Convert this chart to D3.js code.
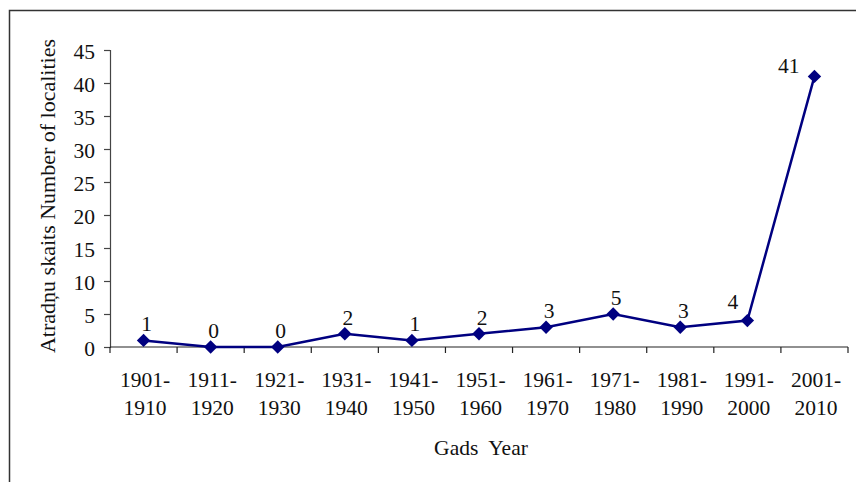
<!DOCTYPE html>
<html lang="en">
<head>
  <meta charset="UTF-8">
  <title>Atradņu skaits</title>
  <script src="https://d3js.org/d3.v7.min.js"></script>
  <style>
    body { margin: 0; background: #fff; }
    svg text { font-family: "Liberation Serif", "Times New Roman", serif; fill: #111; }
  </style>
</head>
<body>
  <svg id="chart" width="856" height="482"></svg>

  <script>
    // decades (two-line tick labels) and the number of localities in each
    const decadeStart = ['1901-', '1911-', '1921-', '1931-', '1941-', '1951-', '1961-', '1971-', '1981-', '1991-', '2001-'];
    const decadeEnd = ['1910', '1920', '1930', '1940', '1950', '1960', '1970', '1980', '1990', '2000', '2010'];
    const localities = [1, 0, 0, 2, 1, 2, 3, 5, 3, 4, 41];
    const yTicks = [0, 5, 10, 15, 20, 25, 30, 35, 40, 45];

    const svg = d3.select('#chart');
    const plotLeft = 110, plotRight = 848, plotTop = 50, plotBottom = 347;
    const navy = '#000080';
    const fs = 21.5;

    // outer frame
    svg.append('rect')
      .attr('x', 9.5).attr('y', 10.5)
      .attr('width', 900).attr('height', 600)
      .attr('fill', 'none')
      .attr('stroke', '#333')
      .attr('stroke-width', 1.5);

    const x = d3.scaleBand()
      .domain(d3.range(localities.length))
      .range([plotLeft, plotRight]);

    const y = d3.scaleLinear()
      .domain([0, 45])
      .range([plotBottom, plotTop]);

    // y axis
    const yAxis = svg.append('g')
      .attr('transform', `translate(${plotLeft},0)`)
      .call(d3.axisLeft(y).tickValues(yTicks).tickSize(6).tickPadding(9));
    yAxis.select('.domain').attr('stroke', '#444').attr('stroke-width', 1.2);
    yAxis.selectAll('.tick line').attr('stroke', '#444').attr('stroke-width', 1.2);
    yAxis.selectAll('.tick text')
      .attr('font-size', fs)
      .attr('fill', '#111')
      .attr('dy', '0.38em');

    // x axis: ticks on category boundaries
    const xAxis = svg.append('g').attr('class', 'x-axis');
    xAxis.append('line')
      .attr('x1', plotLeft).attr('x2', plotRight)
      .attr('y1', plotBottom).attr('y2', plotBottom)
      .attr('stroke', '#222').attr('stroke-width', 1.2);
    xAxis.selectAll('line.tick')
      .data(d3.range(localities.length + 1))
      .join('line')
      .attr('class', 'tick')
      .attr('x1', i => plotLeft + i * x.bandwidth())
      .attr('x2', i => plotLeft + i * x.bandwidth())
      .attr('y1', plotBottom).attr('y2', plotBottom + 6)
      .attr('stroke', '#222').attr('stroke-width', 1.2);

    const labels = xAxis.selectAll('text')
      .data(d3.range(localities.length))
      .join('text')
      .attr('text-anchor', 'middle')
      .attr('font-size', fs)
      .attr('transform', i => `translate(${x(i) + x.bandwidth() / 2 + 1.5},${plotBottom + 40})`);
    labels.append('tspan').attr('x', 0).attr('y', 0).text(i => decadeStart[i]);
    labels.append('tspan').attr('x', 0).attr('y', 28).text(i => decadeEnd[i]);

    // axis titles
    svg.append('text')
      .attr('x', 481).attr('y', 455)
      .attr('text-anchor', 'middle')
      .attr('font-size', fs)
      .attr('xml:space', 'preserve')
      .text('Gads  Year');

    svg.append('text')
      .attr('transform', 'translate(55,196) rotate(-90)')
      .attr('text-anchor', 'middle')
      .attr('font-size', 22)
      .text('Atradņu skaits Number of localities');

    // line + markers
    const cx = i => x(i) + x.bandwidth() / 2;
    const line = d3.line()
      .x((d, i) => cx(i))
      .y(d => y(d));

    svg.append('path')
      .datum(localities)
      .attr('d', line)
      .attr('fill', 'none')
      .attr('stroke', navy)
      .attr('stroke-width', 2.5);

    svg.selectAll('path.marker')
      .data(localities)
      .join('path')
      .attr('class', 'marker')
      .attr('d', d3.symbol().type(d3.symbolSquare).size(90))
      .attr('transform', (d, i) => `translate(${cx(i)},${y(d)}) rotate(45)`)
      .attr('fill', navy);

    // data labels; put them left of the point when the next segment shoots up
    const last = localities.length - 1;
    const leftSide = i => i === last || localities[i + 1] - localities[i] > 10;
    svg.selectAll('text.value')
      .data(localities)
      .join('text')
      .attr('class', 'value')
      .attr('font-size', fs)
      .attr('text-anchor', (d, i) => leftSide(i) ? 'end' : 'middle')
      .attr('x', (d, i) => leftSide(i) ? cx(i) - (i === last ? 15 : 9) : cx(i) + 3)
      .attr('y', (d, i) => leftSide(i) ? y(d) - (i === last ? 3 : 12) : y(d) - 9)
      .text(d => d);
  </script>
</body>
</html>
